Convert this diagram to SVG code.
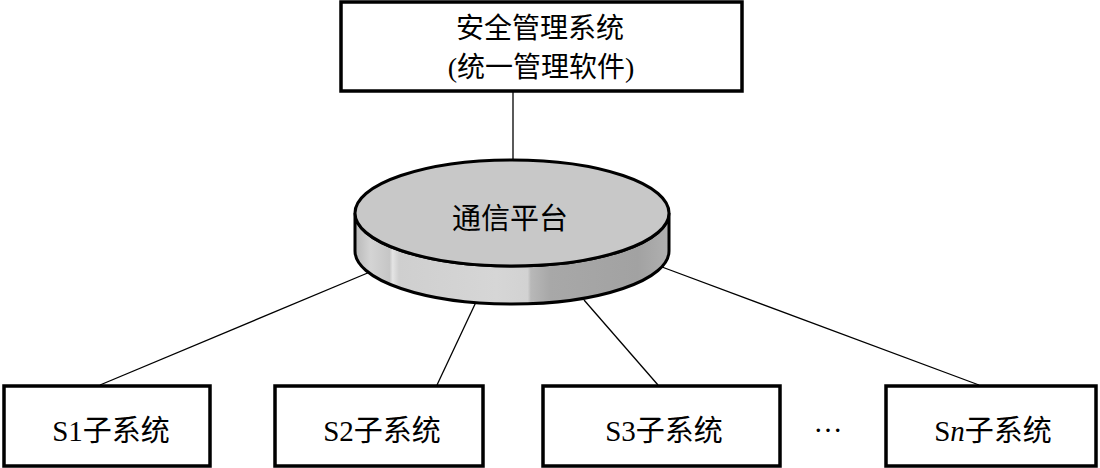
<svg xmlns="http://www.w3.org/2000/svg" width="1100" height="468" viewBox="0 0 1100 468">
<style>
.box{fill:#fff;stroke:#000;stroke-width:3.5}
.t{font-family:"Noto Sans CJK SC",serif;font-size:29px;fill:#000;text-anchor:middle}
.tt{font-size:28px}
.l{font-family:"Liberation Serif","Times New Roman",serif}
.ln{stroke:#000;stroke-width:1.3;fill:none}
</style>
<defs>
<linearGradient id="side" x1="355" y1="0" x2="669" y2="0" gradientUnits="userSpaceOnUse">
<stop offset="0" stop-color="#b8b8b8"/>
<stop offset="0.05" stop-color="#d4d4d4"/>
<stop offset="0.11" stop-color="#c6c6c6"/>
<stop offset="0.12" stop-color="#e4e4e4"/>
<stop offset="0.14" stop-color="#cfcfcf"/>
<stop offset="0.45" stop-color="#d6d6d6"/>
<stop offset="0.55" stop-color="#d2d2d2"/>
<stop offset="0.56" stop-color="#b8b8b8"/>
<stop offset="0.62" stop-color="#a8a8a8"/>
<stop offset="0.9" stop-color="#a2a2a2"/>
<stop offset="1" stop-color="#b0b0b0"/>
</linearGradient>
</defs>
<g id="connectors">
<line class="ln" x1="513" y1="92" x2="513" y2="162"/>
<line class="ln" x1="100" y1="385" x2="370" y2="272"/>
<line class="ln" x1="437" y1="385" x2="476" y2="302"/>
<line class="ln" x1="658" y1="385" x2="584" y2="300"/>
<line class="ln" x1="979" y1="385" x2="662" y2="267"/>
</g>
<g id="mgmt">
<rect class="box" x="341" y="2" width="401" height="89"/>
<text class="t tt" x="540" y="38">安全管理系统</text>
<text class="t tt" x="541" y="77"><tspan class="l">(</tspan>统一管理软件<tspan class="l">)</tspan></text>
</g>
<g id="platform">
<path d="M355,213 L355,251 A157,53 0 0 0 669,251 L669,213 A157,53 0 0 1 355,213 Z" fill="url(#side)" stroke="#000" stroke-width="3"/>
<ellipse cx="512" cy="213" rx="157" ry="53" fill="#c8c8c8" stroke="#000" stroke-width="3"/>
<text class="t" x="510" y="229">通信平台</text>
</g>
<g id="s1">
<rect class="box" x="4" y="386" width="206" height="80"/>
<text class="t" x="111" y="441"><tspan class="l">S1</tspan>子系统</text>
</g>
<g id="s2">
<rect class="box" x="275" y="386" width="208" height="80"/>
<text class="t" x="382" y="441"><tspan class="l">S2</tspan>子系统</text>
</g>
<g id="s3">
<rect class="box" x="543" y="386" width="237" height="80"/>
<text class="t" x="664" y="441"><tspan class="l">S3</tspan>子系统</text>
</g>
<g id="dots">
<text class="t l" x="828" y="432">…</text>
</g>
<g id="sn">
<rect class="box" x="886" y="386" width="210" height="80"/>
<text class="t" x="993" y="441"><tspan class="l">S</tspan><tspan class="l" font-style="italic">n</tspan>子系统</text>
</g>
</svg>
